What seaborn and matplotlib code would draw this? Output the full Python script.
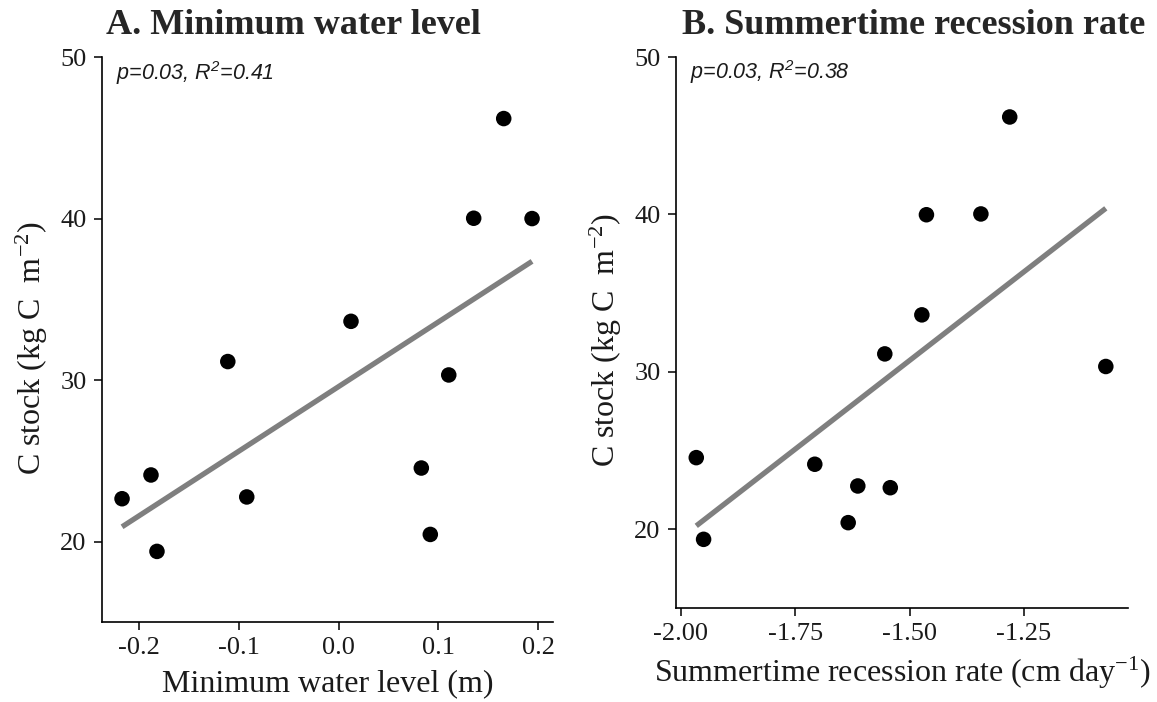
import numpy as np
import pandas as pd
import matplotlib
matplotlib.use("Agg")
import matplotlib.pyplot as plt
import seaborn as sns

# ---- data ----
min_water_level = [-0.217, -0.188, -0.182, -0.111, -0.092, 0.0125, 0.083, 0.092, 0.1105, 0.1355, 0.1656, 0.194]
c_stock_a = [22.66, 24.13, 19.40, 31.15, 22.77, 33.64, 24.56, 20.45, 30.32, 40.02, 46.19, 40.0]

recession_rate = [-1.966, -1.950, -1.707, -1.634, -1.613, -1.554, -1.542, -1.473, -1.463, -1.344, -1.281, -1.071]
c_stock_b = [24.55, 19.36, 24.13, 20.42, 22.75, 31.14, 22.64, 33.62, 39.98, 40.03, 46.19, 30.34]

titles = ["A. Minimum water level", "B. Summertime recession rate"]
stats_text = ["p=0.03, R$^{2}$=0.41", "p=0.03, R$^{2}$=0.38"]
xlabels = ["Minimum water level (m)", "Summertime recession rate (cm day$^{-1}$)"]
ylabel = "C stock (kg C  m$^{-2}$)"
yticks = [20, 30, 40, 50]
xticks_a = [-0.2, -0.1, 0.0, 0.1, 0.2]
xticks_b = [-2.00, -1.75, -1.50, -1.25]

df_a = pd.DataFrame({"x": min_water_level, "y": c_stock_a})
df_b = pd.DataFrame({"x": recession_rate, "y": c_stock_b})

sns.set_style("white")
plt.rcParams["font.family"] = ["Liberation Serif", "DejaVu Serif"]
plt.rcParams["mathtext.default"] = "regular"
plt.rcParams["axes.unicode_minus"] = False

fig = plt.figure(figsize=(11.57, 7.02), dpi=100)
ax_a = fig.add_axes([102 / 1157, 1 - 622 / 702, 451 / 1157, 565 / 702])
ax_b = fig.add_axes([676 / 1157, 1 - 607.5 / 702, 452 / 1157, 550.5 / 702])

panels = [
    (ax_a, df_a, (-0.2371, 0.215), xticks_a, "{:.1f}", -0.115),
    (ax_b, df_b, (-2.0103, -1.0225), xticks_b, "{:.2f}", -0.115),
]

for i, (ax, df, xlim, xt, fmt, ylx) in enumerate(panels):
    sns.regplot(data=df, x="x", y="y", ax=ax, ci=None, truncate=True,
                scatter_kws=dict(s=125, color="black", edgecolor="none", alpha=1, zorder=3),
                line_kws=dict(color="#7f7f7f", lw=3.8, solid_capstyle="butt", zorder=2))
    ax.set_xlim(*xlim)
    ax.set_ylim(15.03, 50)
    ax.set_xticks(xt)
    ax.set_xticklabels([fmt.format(v) for v in xt])
    ax.set_yticks(yticks)
    ax.tick_params(axis="both", labelsize=19, length=6, width=1.1, color="black",
                   labelcolor="#1a1a1a", pad=5, direction="out", bottom=True, left=True)
    for s in ["top", "right"]:
        ax.spines[s].set_visible(False)
    for s in ["left", "bottom"]:
        ax.spines[s].set_color("black")
        ax.spines[s].set_linewidth(1.2)
    ax.set_xlabel(xlabels[i], fontsize=23, labelpad=7, color="#1a1a1a")
    ax.set_ylabel(ylabel, fontsize=23, color="#1a1a1a")
    ax.yaxis.set_label_coords(ylx, 0.485)
    ax.text(0.032, 0.972, stats_text[i], transform=ax.transAxes, ha="left", va="center",
            fontsize=15.5, style="italic", family=["Liberation Sans", "DejaVu Sans"], color="#1a1a1a")

fig.text(293 / 1157, 1 - 26 / 702, titles[0], ha="center", va="center", fontsize=26, fontweight="bold")
fig.text(914 / 1157, 1 - 26 / 702, titles[1], ha="center", va="center", fontsize=26, fontweight="bold")

fig.savefig("out.png", dpi=100)
